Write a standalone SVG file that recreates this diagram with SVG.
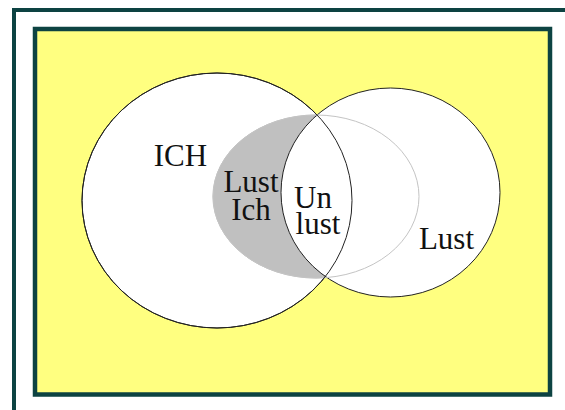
<svg xmlns="http://www.w3.org/2000/svg" width="565" height="410" viewBox="0 0 565 410">
<style>
.frame{stroke:#0d4342}
.lbl{font-family:"Liberation Serif","Times New Roman",serif;font-size:31px;fill:#111;text-anchor:middle}
.ring{stroke:#222;stroke-width:1}
</style>
<rect x="0" y="0" width="565" height="410" fill="#ffffff"/>
<g id="outer-frame">
<rect class="frame" x="14" y="10" width="600" height="450" fill="none" stroke-width="4"/>
</g>
<g id="panel">
<rect class="frame" x="35" y="29" width="515" height="365.5" fill="#ffff80" stroke-width="4.5"/>
</g>
<g id="ich">
<ellipse class="ring" cx="217" cy="200.5" rx="135" ry="127.5" fill="#ffffff"/>
</g>
<g id="lust-ich">
<ellipse cx="316" cy="196.5" rx="103" ry="81.5" fill="#c0c0c0" stroke="#c0c0c0"/>
</g>
<g id="lust">
<ellipse class="ring" cx="390.5" cy="192.5" rx="109.5" ry="104.5" fill="#ffffff"/>
<ellipse cx="316" cy="196.5" rx="103" ry="81.5" fill="none" stroke="#c4c4c4" stroke-width="1"/>
</g>
<g id="unlust">
<ellipse class="ring" cx="217" cy="200.5" rx="135" ry="127.5" fill="none"/>
</g>
<g id="labels">
<text class="lbl" x="180.5" y="166">ICH</text>
<text class="lbl" x="251" y="192">Lust<tspan x="251" y="220">Ich</tspan></text>
<text class="lbl" x="313" y="208">Un<tspan x="318" y="234">lust</tspan></text>
<text class="lbl" x="446.5" y="249">Lust</text>
</g>
</svg>
